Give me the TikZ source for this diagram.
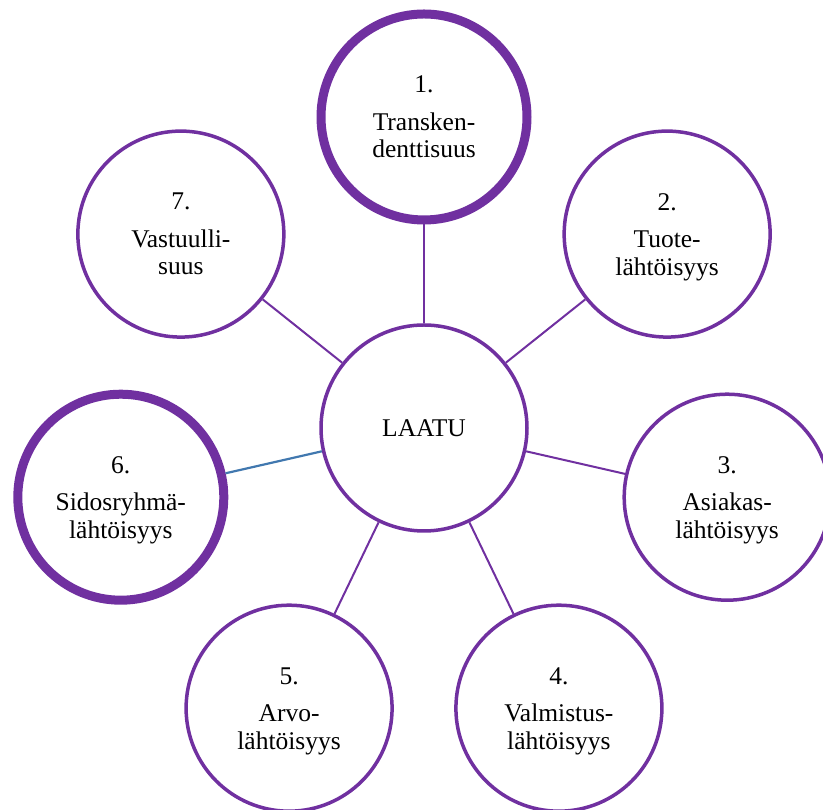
\documentclass[tikz,border=0pt]{standalone}
\usepackage{fontspec}
\setmainfont{Liberation Serif}
\definecolor{violet}{RGB}{112,48,160}
\definecolor{linkblue}{RGB}{65,120,175}
\begin{document}
\begin{tikzpicture}[x=1pt,y=1pt,
  bubble/.style={circle,draw=violet,line width=3.5pt,fill=white,
    minimum size=206pt,inner sep=0pt,align=center,text depth=0pt,
    font=\fontsize{25.5}{27.5}\selectfont},
  bold bubble/.style={bubble,line width=9pt},
  link/.style={draw=violet,line width=2pt},
  blue link/.style={draw=linkblue,line width=2.2pt}]
  \useasboundingbox (0,0) rectangle (823,810);
  \coordinate (C) at (424,382);
  \node[bubble] (core) at (C) {LAATU};
  \node[bold bubble] (n1) at ([shift={(90:311pt)}]C) {1.\\[10pt]Transken-\\denttisuus};
  \node[bubble] (n2) at ([shift={(38.57:311pt)}]C) {2.\\[10pt]Tuote-\\lähtöisyys};
  \node[bubble] (n3) at ([shift={(-12.86:311pt)}]C) {3.\\[10pt]Asiakas-\\lähtöisyys};
  \node[bubble] (n4) at ([shift={(-64.29:311pt)}]C) {4.\\[10pt]Valmistus-\\lähtöisyys};
  \node[bubble] (n5) at ([shift={(-115.71:311pt)}]C) {5.\\[10pt]Arvo-\\lähtöisyys};
  \node[bold bubble] (n6) at ([shift={(-167.14:311pt)}]C) {6.\\[10pt]Sidosryhmä-\\lähtöisyys};
  \node[bubble] (n7) at ([shift={(141.43:311pt)}]C) {7.\\[10pt]Vastuulli-\\suus};
  \draw[link] (core) -- (n1);
  \draw[link] (core) -- (n2);
  \draw[link] (core) -- (n3);
  \draw[link] (core) -- (n4);
  \draw[link] (core) -- (n5);
  \draw[blue link] (core) -- (n6);
  \draw[link] (core) -- (n7);
\end{tikzpicture}
\end{document}
